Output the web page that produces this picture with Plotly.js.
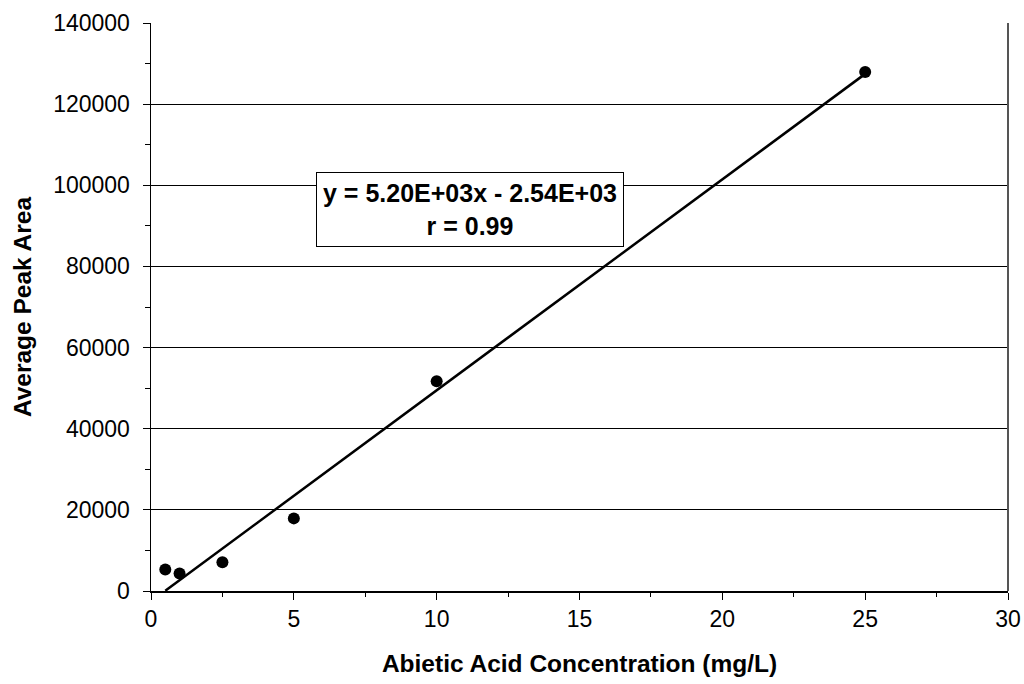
<!DOCTYPE html>
<html>
<head>
<meta charset="utf-8">
<script src="https://cdn.plot.ly/plotly-3.0.1.min.js"></script>
<style>html,body{margin:0;padding:0;background:#fff;}#chart{width:1024px;height:684px;}</style>
</head>
<body>
<div id="chart"></div>
<script>
// Data
const concentration = [0.5, 1, 2.5, 5, 10, 25];
const peakArea = [5300, 4300, 7100, 17900, 51700, 127900];
// Linear fit shown on the chart
const slope = 5200;
const intercept = -2540;
const fitX = [0.5, 25];
const fitY = fitX.map(x => slope * x + intercept);
const equationText = "y = 5.20E+03x - 2.54E+03<br>r = 0.99";

const font = "Liberation Sans, Arial, sans-serif";

const traces = [
  {x: fitX, y: fitY, type: 'scatter', mode: 'lines',
   line: {color: '#000', width: 2.5}, hoverinfo: 'skip', showlegend: false},
  {x: concentration, y: peakArea, type: 'scatter', mode: 'markers',
   marker: {color: '#000', size: 12}, showlegend: false}
];

const layout = {
  width: 1024, height: 684,
  margin: {l: 151, r: 16, t: 23, b: 93},
  paper_bgcolor: '#fff', plot_bgcolor: '#fff',
  font: {family: font, size: 23, color: '#000'},
  xaxis: {
    range: [0, 30], dtick: 5, tick0: 0,
    showgrid: false, zeroline: false,
    showline: true, linecolor: '#000', linewidth: 1.5,
    ticks: 'outside', ticklen: 7, tickcolor: '#000', tickwidth: 1,
    minor: {dtick: 2.5, ticks: 'outside', ticklen: 4, tickcolor: '#000', showgrid: false},
    tickfont: {family: font, size: 23},
    title: {text: '<b>Abietic Acid Concentration (mg/L)</b>', font: {family: font, size: 24.5}, standoff: 24}
  },
  yaxis: {
    range: [0, 140000], dtick: 20000, tick0: 0,
    showgrid: true, gridcolor: '#000', gridwidth: 1,
    zeroline: false,
    showline: true, linecolor: '#000', linewidth: 1.5,
    ticks: 'outside', ticklen: 7, tickcolor: '#000', tickwidth: 1,
    ticklabelstandoff: 8,
    minor: {dtick: 10000, ticks: 'outside', ticklen: 5, tickcolor: '#000', showgrid: false},
    tickfont: {family: font, size: 23},
    tickformat: 'd',
    title: {text: '<b>Average Peak Area</b>', font: {family: font, size: 24.5}, standoff: 14}
  },
  shapes: [
    {type: 'line', xref: 'paper', yref: 'paper', x0: 1, x1: 1, y0: 0, y1: 1,
     line: {color: '#555', width: 2}}
  ],
  annotations: [
    {xref: 'x', yref: 'y', x: 11.17, y: 94150, text: '<b>' + equationText + '</b>',
     showarrow: false, align: 'center',
     font: {family: font, size: 25, color: '#000'},
     bgcolor: '#fff', bordercolor: '#000', borderwidth: 1, borderpad: 6}
  ]
};

Plotly.newPlot('chart', traces, layout, {displayModeBar: false, staticPlot: true});
</script>
</body>
</html>
